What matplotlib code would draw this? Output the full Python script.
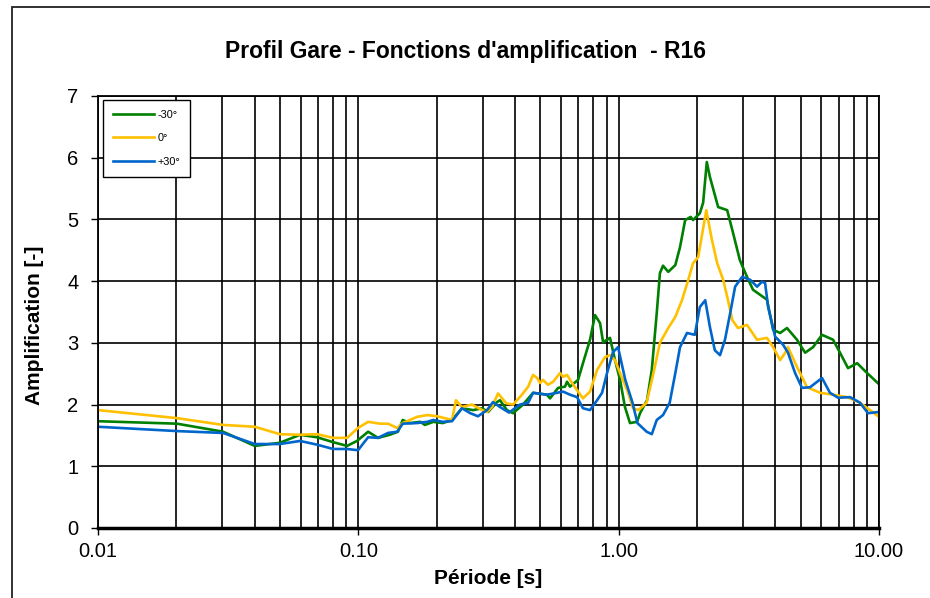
import matplotlib.pyplot as plt
from matplotlib.patches import Rectangle
from matplotlib.ticker import FixedLocator, FixedFormatter, NullFormatter

# periode [s] / amplification
periode_m30 = [0.01, 0.0201, 0.0302, 0.040, 0.0499, 0.0597, 0.0694, 0.080, 0.0905, 0.0988,
               0.109, 0.119, 0.132, 0.142, 0.148, 0.158, 0.173, 0.180, 0.194, 0.211,
               0.229, 0.250, 0.276, 0.299, 0.315, 0.341, 0.350, 0.372, 0.393, 0.429,
               0.469, 0.530, 0.545, 0.585, 0.622, 0.633, 0.650, 0.698, 0.729, 0.776,
               0.811, 0.848, 0.871, 0.926, 0.968, 1.012, 1.057, 1.105, 1.176, 1.208,
               1.285, 1.34, 1.40, 1.44, 1.48, 1.55, 1.65, 1.72, 1.80, 1.89,
               1.93, 2.05, 2.11, 2.18, 2.24, 2.41, 2.61, 2.75, 2.92, 3.11,
               3.28, 3.71, 3.92, 4.17, 4.43, 4.84, 5.20, 5.58, 6.04, 6.66,
               7.08, 7.60, 8.24, 9.0, 10.0]
ampl_m30 = [1.73, 1.69, 1.56, 1.33, 1.38, 1.51, 1.47, 1.39, 1.33, 1.41,
            1.56, 1.46, 1.51, 1.56, 1.75, 1.70, 1.72, 1.67, 1.72, 1.70,
            1.75, 1.94, 1.91, 1.94, 1.88, 2.04, 2.07, 1.91, 1.86, 2.00,
            2.19, 2.16, 2.10, 2.27, 2.29, 2.37, 2.29, 2.40, 2.67, 3.05,
            3.45, 3.32, 3.01, 3.08, 2.72, 2.40, 1.96, 1.70, 1.72, 1.86,
            2.07, 2.56, 3.48, 4.13, 4.25, 4.15, 4.26, 4.55, 4.99, 5.04,
            4.99, 5.10, 5.27, 5.93, 5.69, 5.20, 5.15, 4.78, 4.34, 4.07,
            3.86, 3.70, 3.21, 3.16, 3.24, 3.05, 2.84, 2.93, 3.13, 3.05,
            2.84, 2.59, 2.67, 2.51, 2.33]

periode_0 = [0.01, 0.0201, 0.0302, 0.040, 0.0499, 0.0597, 0.0694, 0.080, 0.0905, 0.0997,
             0.109, 0.121, 0.130, 0.141, 0.148, 0.168, 0.184, 0.201, 0.219, 0.229,
             0.237, 0.250, 0.273, 0.299, 0.312, 0.326, 0.344, 0.370, 0.393, 0.425,
             0.449, 0.469, 0.486, 0.499, 0.512, 0.535, 0.560, 0.595, 0.611, 0.633,
             0.662, 0.698, 0.729, 0.776, 0.826, 0.886, 0.926, 0.968, 1.012, 1.076,
             1.135, 1.19, 1.28, 1.36, 1.44, 1.55, 1.65, 1.75, 1.85, 1.93,
             2.02, 2.17, 2.28, 2.39, 2.52, 2.63, 2.73, 2.87, 3.11, 3.40,
             3.71, 3.92, 4.17, 4.36, 4.47, 4.84, 5.29, 5.94, 6.66, 7.54,
             8.45, 10.0]
ampl_0 = [1.91, 1.78, 1.67, 1.64, 1.52, 1.51, 1.52, 1.46, 1.46, 1.62,
          1.72, 1.69, 1.69, 1.62, 1.70, 1.80, 1.83, 1.81, 1.77, 1.75,
          2.07, 1.96, 2.00, 1.91, 1.88, 1.96, 2.18, 2.02, 2.00, 2.16,
          2.29, 2.48, 2.43, 2.35, 2.40, 2.32, 2.37, 2.51, 2.45, 2.48,
          2.35, 2.21, 2.10, 2.21, 2.56, 2.77, 2.80, 2.72, 2.51, 2.24,
          1.94, 1.91, 2.03, 2.51, 3.00, 3.24, 3.42, 3.69, 4.02, 4.29,
          4.39, 5.15, 4.67, 4.29, 4.02, 3.69, 3.37, 3.24, 3.29, 3.05,
          3.08, 2.93, 2.72, 2.84, 2.93, 2.61, 2.28, 2.19, 2.16, 2.12,
          2.03, 1.80]

periode_p30 = [0.01, 0.0201, 0.0302, 0.040, 0.0499, 0.0597, 0.0694, 0.080, 0.0905, 0.0997,
               0.109, 0.119, 0.130, 0.141, 0.148, 0.168, 0.184, 0.194, 0.211, 0.229,
               0.250, 0.269, 0.288, 0.312, 0.329, 0.350, 0.379, 0.418, 0.449, 0.469,
               0.530, 0.580, 0.611, 0.650, 0.692, 0.729, 0.776, 0.826, 0.863, 0.902,
               0.951, 0.994, 1.06, 1.13, 1.18, 1.28, 1.34, 1.40, 1.48, 1.57,
               1.65, 1.72, 1.83, 1.96, 2.05, 2.15, 2.24, 2.34, 2.45, 2.56,
               2.68, 2.80, 2.98, 3.20, 3.40, 3.55, 3.65, 3.75, 3.99, 4.28,
               4.47, 4.76, 5.06, 5.43, 6.04, 6.48, 6.96, 7.74, 8.45, 9.07,
               10.0]
ampl_p30 = [1.64, 1.57, 1.54, 1.36, 1.36, 1.41, 1.35, 1.28, 1.28, 1.26,
            1.47, 1.46, 1.54, 1.56, 1.69, 1.70, 1.72, 1.75, 1.72, 1.73,
            1.94, 1.86, 1.81, 1.91, 2.04, 1.96, 1.87, 2.00, 2.03, 2.19,
            2.16, 2.19, 2.21, 2.16, 2.12, 1.94, 1.91, 2.07, 2.19, 2.51,
            2.85, 2.93, 2.40, 2.03, 1.70, 1.56, 1.52, 1.75, 1.83, 2.03,
            2.51, 2.93, 3.16, 3.13, 3.58, 3.69, 3.26, 2.88, 2.80, 3.05,
            3.48, 3.91, 4.07, 4.02, 3.91, 3.99, 3.97, 3.58, 3.10, 2.97,
            2.84, 2.51, 2.27, 2.28, 2.43, 2.19, 2.11, 2.12, 2.03, 1.86,
            1.88]

xticks = [0.01, 0.1, 1, 10]
xtick_labels = ['0.01', '0.10', '1.00', '10.00']
minor_ticks = [m * 10.0 ** e for e in (-2, -1, 0) for m in range(2, 10)]

plt.rcParams['font.family'] = ['Liberation Sans', 'DejaVu Sans']

fig = plt.figure(figsize=(9.3, 5.98), dpi=100)
ax = fig.add_axes([0.1054, 0.1171, 0.8398, 0.7224])

ax.plot(periode_m30, ampl_m30, color='#008000', lw=1.9, label='-30°')
ax.plot(periode_0, ampl_0, color='#FFC000', lw=1.9, label='0°')
ax.plot(periode_p30, ampl_p30, color='#0066CC', lw=1.9, label='+30°')

ax.set_xscale('log')
ax.set_xlim(0.01, 10)
ax.set_ylim(0, 7)
ax.xaxis.set_major_locator(FixedLocator(xticks))
ax.xaxis.set_major_formatter(FixedFormatter(xtick_labels))
ax.xaxis.set_minor_locator(FixedLocator(minor_ticks))
ax.xaxis.set_minor_formatter(NullFormatter())
ax.set_yticks(range(0, 8))

ax.grid(True, which='both', axis='x', color='black', lw=1.2)
ax.grid(True, which='major', axis='y', color='black', lw=1.2)
ax.set_axisbelow(True)
ax.tick_params(axis='both', which='major', direction='out', length=5, width=1,
               labelsize=14.5)
ax.tick_params(axis='x', which='major', pad=5)
ax.tick_params(axis='y', which='major', pad=9)
ax.tick_params(axis='x', which='minor', length=0)
for s in ax.spines.values():
    s.set_color('black')
    s.set_linewidth(1.3)
ax.spines['bottom'].set_linewidth(2.5)

ax.set_title("Profil Gare - Fonctions d'amplification  - R16", fontsize=16.5,
             fontweight='bold', pad=27, x=0.47)
ax.set_xlabel('Période [s]', fontsize=15, fontweight='bold', labelpad=6)
ax.set_ylabel('Amplification [-]', fontsize=15, fontweight='bold', labelpad=17, y=0.468)

leg = ax.legend(loc='upper left', bbox_to_anchor=(0.0064, 0.9907), fontsize=7.8,
                fancybox=False, edgecolor='black', framealpha=1,
                handlelength=3.8, handletextpad=0.3, labelspacing=1.25,
                borderpad=0.9, borderaxespad=0)
leg.get_frame().set_linewidth(1.0)

fig.patches.append(Rectangle((0.0129, -0.1), 1.2, 1.0883, transform=fig.transFigure,
                             fill=False, edgecolor='#222222', lw=1.3))

fig.savefig('out.png', dpi=100)
